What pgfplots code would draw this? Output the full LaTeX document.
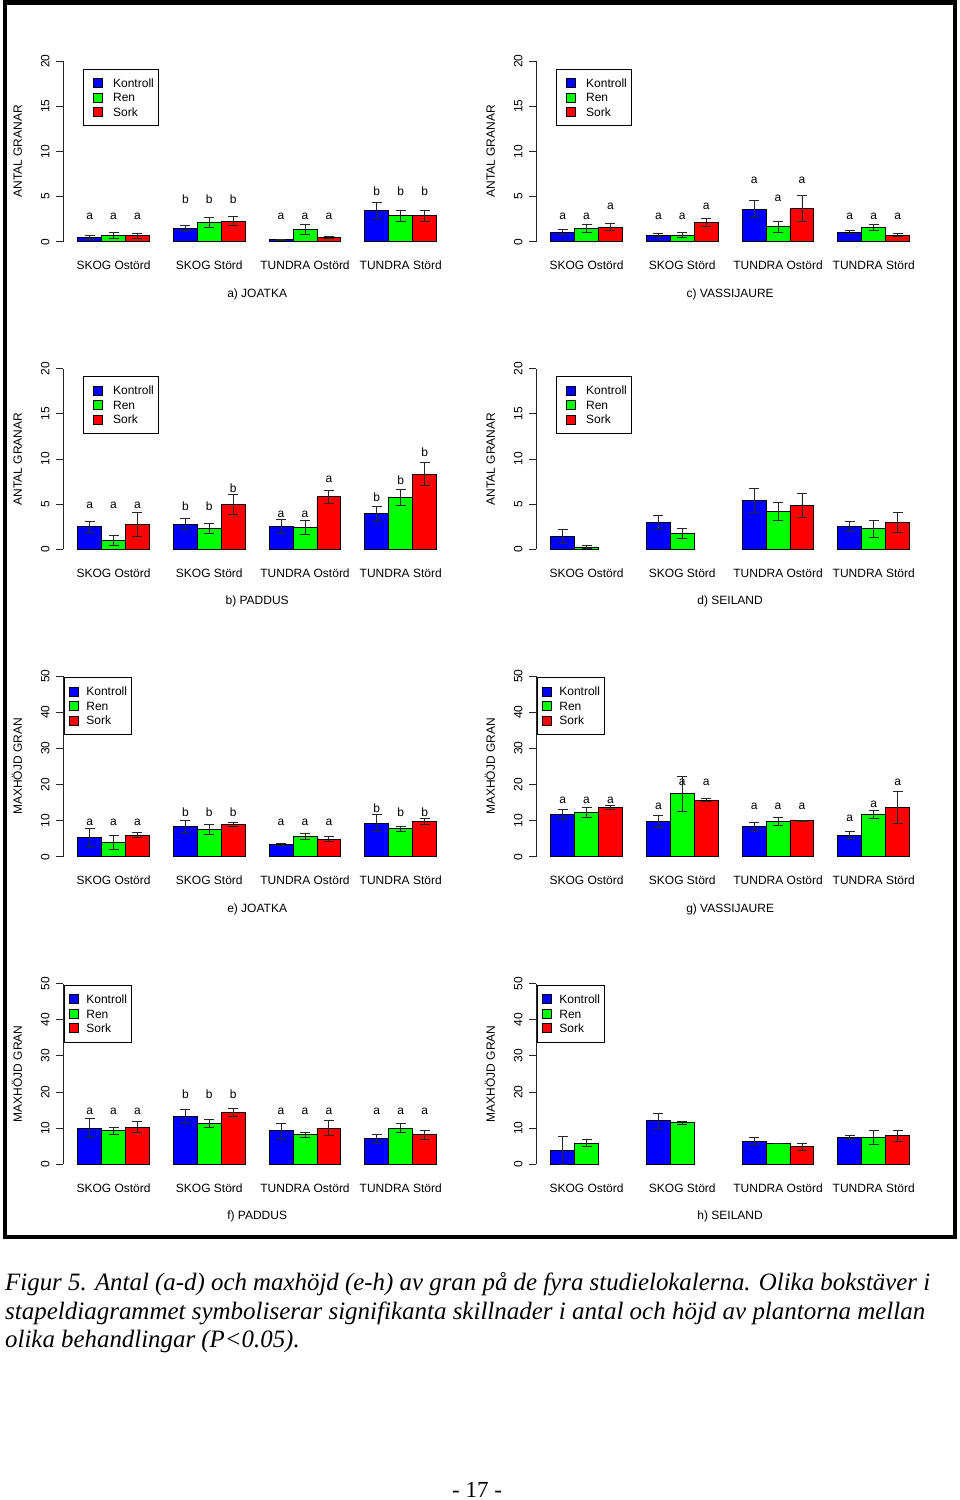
\documentclass[border=0pt]{standalone}
\usepackage{fontspec}
\setmainfont{Liberation Sans}
\newfontfamily\capfont{Liberation Serif}
\usepackage{graphicx}
\usepackage{pgfplots}
\pgfplotsset{compat=1.18}
\usepackage{pgfplotstable}
\definecolor{kblue}{RGB}{0,0,255}
\definecolor{rgreen}{RGB}{0,255,0}
\definecolor{sred}{RGB}{255,0,0}
\newsavebox\capbox
\newlength\capw

% columns: g = group, k/r/s = Kontroll/Ren/Sork means, ke/re/se = error
\pgfplotstableread{
g k ke r re s se
1 0.45 0.2 0.74 0.33 0.66 0.25
2 1.47 0.37 2.14 0.6 2.28 0.5
3 0.22 0.08 1.36 0.6 0.44 0.1
4 3.5 0.9 2.87 0.6 2.87 0.6
}\tA
\pgfplotstableread{
g k ke r re s se
1 2.48 0.6 1.0 0.54 2.77 1.33
2 2.77 0.6 2.33 0.55 4.92 1.1
3 2.55 0.76 2.44 0.8 5.84 0.72
4 3.92 0.8 5.73 0.92 8.32 1.27
}\tB
\pgfplotstableread{
g k ke r re s se
1 1.07 0.3 1.44 0.44 1.62 0.42
2 0.66 0.24 0.74 0.3 2.17 0.45
3 3.61 0.92 1.66 0.6 3.68 1.42
4 1.07 0.2 1.55 0.33 0.74 0.18
}\tC
\pgfplotstableread{
g k ke r re s se
1 1.44 0.74 0.26 0.15 nan nan
2 2.99 0.8 1.77 0.57 nan nan
3 5.43 1.35 4.21 0.98 4.84 1.3
4 2.55 0.55 2.26 0.92 2.96 1.07
}\tD
\pgfplotstableread{
g k ke r re s se
1 5.44 2.5 3.87 1.9 5.9 0.7
2 8.3 1.65 7.47 1.35 9.04 0.55
3 3.41 0.3 5.63 0.75 4.89 0.8
4 9.32 2.45 7.75 0.65 9.78 0.8
}\tE
\pgfplotstableread{
g k ke r re s se
1 9.98 2.6 9.24 0.9 10.26 1.5
2 13.31 1.75 11.28 1.0 14.33 1.0
3 9.24 2.05 8.13 0.65 9.98 2.1
4 7.02 1.2 9.98 1.25 8.23 1.25
}\tF
\pgfplotstableread{
g k ke r re s se
1 11.8 1.4 12.27 1.35 13.56 0.55
2 9.78 1.6 17.44 4.8 15.68 0.45
3 8.3 1.2 9.78 1.1 9.96 0.1
4 6.0 1.0 11.8 1.1 13.65 4.47
}\tG
\pgfplotstableread{
g k ke r re s se
1 3.88 3.95 5.82 1.0 nan nan
2 12.0 2.05 11.46 0.5 nan nan
3 6.38 0.95 5.82 0.05 4.9 0.93
4 7.49 0.5 7.49 1.9 7.95 1.5
}\tH

% significance letters
\pgfplotstableread{
x y l
1.5 2.84 a
2.5 2.84 a
3.5 2.84 a
5.5 4.68 b
6.5 4.68 b
7.5 4.68 b
9.5 2.84 a
10.5 2.84 a
11.5 2.84 a
13.5 5.64 b
14.5 5.64 b
15.5 5.64 b
}\lA
\pgfplotstableread{
x y l
1.5 4.92 a
2.5 4.92 a
3.5 4.92 a
5.5 4.73 b
6.5 4.73 b
7.5 6.77 b
9.5 3.88 a
10.5 3.88 a
11.5 7.76 a
13.5 5.77 b
14.5 7.69 b
15.5 10.72 b
}\lB
\pgfplotstableread{
x y l
1.5 2.84 a
2.5 2.84 a
3.5 3.87 a
5.5 2.84 a
6.5 2.84 a
7.5 3.87 a
9.5 6.81 a
10.5 4.79 a
11.5 6.81 a
13.5 2.84 a
14.5 2.84 a
15.5 2.84 a
}\lC
\pgfplotstableread{
x y l
1.5 9.4 a
2.5 9.4 a
3.5 9.4 a
5.5 12.18 b
6.5 12.18 b
7.5 12.18 b
9.5 9.4 a
10.5 9.4 a
11.5 9.4 a
13.5 13.4 b
14.5 12.18 b
15.5 12.36 b
}\lE
\pgfplotstableread{
x y l
1.5 14.6 a
2.5 14.6 a
3.5 14.6 a
5.5 19.4 b
6.5 19.4 b
7.5 19.4 b
9.5 14.6 a
10.5 14.6 a
11.5 14.6 a
13.5 14.6 a
14.5 14.6 a
15.5 14.6 a
}\lF
\pgfplotstableread{
x y l
1.5 15.68 a
2.5 15.68 a
3.5 15.68 a
5.5 13.84 a
6.5 20.48 a
7.5 20.48 a
9.5 13.84 a
10.5 13.84 a
11.5 13.84 a
13.5 10.7 a
14.5 14.58 a
15.5 20.48 a
}\lG

\pgfplotsset{
  /pgf/number format/assume math mode=true,
  legimg/.style 2 args={legend image code/.code={%
      \draw[fill=#1, draw=black, line width=0.9pt] (0pt,-4.5pt) rectangle (9pt,4.5pt);
      \path (-#2,0pt);}},
  errb/.style={error bars/.cd, y dir=both, y explicit,
      error bar style={line width=0.9pt, black!85},
      error mark options={rotate=90, mark size=5pt, line width=0.9pt, black!85}},
  panel/.style={
    scale only axis, width=387.7pt, height=180.7pt,
    anchor=south west, clip=false,
    xmin=0.4, xmax=16.6, ymin=0,
    axis y line*=left, axis x line*=bottom,
    x axis line style={draw=none},
    y axis line style={line width=0.9pt, black!85},
    xtick={2.5,6.5,10.5,14.5},
    xticklabels={SKOG Ostörd,SKOG Störd,TUNDRA Ostörd,TUNDRA Störd},
    xtick style={draw=none},
    ytick style={line width=0.9pt, black!85},
    tick align=outside, major tick length=7pt,
    yticklabel style={xshift=-11pt, rotate=90, anchor=center, inner sep=0pt},
    xticklabel style={anchor=base, yshift=-20.8pt, inner sep=0pt},
    every axis x label/.style={at={(axis description cs:0.5,0)}, anchor=base, yshift=-55.3pt},
    every axis y label/.style={at={(axis description cs:0,0.5)}, xshift=-41.5pt, rotate=90, anchor=base},
    legend cell align=left,
  },
  antal/.style={ymax=20, ytick={0,5,10,15,20}, ylabel={ANTAL GRANAR},
    legend style={at={(axis description cs:0.0503,0.958)}, anchor=north west,
      draw=black, line width=0.9pt, fill=white,
      inner xsep=4.3pt, inner ysep=9pt, column sep=10pt, row sep=4.6pt,
      nodes={inner sep=0pt, text height=8.6pt, text depth=0pt}}},
  hojd/.style={ymax=50, ytick={0,10,20,30,40,50}, ylabel={MAXHÖJD GRAN},
    legend style={at={(axis description cs:0.0026,0.993)}, anchor=north west,
      draw=black, line width=0.9pt, fill=white,
      inner xsep=4pt, inner ysep=9pt, column sep=7.7pt, row sep=4.6pt,
      nodes={inner sep=0pt, text height=8.6pt, text depth=0pt}}},
}

\newcommand\bars[2]{%
  \addplot[ybar, bar width=1, bar shift=0pt, fill=kblue, draw=black, line width=0.9pt, legimg={kblue}{#2}, errb]
    table[x expr=4*\thisrow{g}-2.5, y=k, y error=ke]{#1};
  \addlegendentry{Kontroll}
  \addplot[ybar, bar width=1, bar shift=0pt, fill=rgreen, draw=black, line width=0.9pt, legimg={rgreen}{#2}, errb]
    table[x expr=4*\thisrow{g}-1.5, y=r, y error=re]{#1};
  \addlegendentry{Ren}
  \addplot[ybar, bar width=1, bar shift=0pt, fill=sred, draw=black, line width=0.9pt, legimg={sred}{#2}, errb]
    table[x expr=4*\thisrow{g}-0.5, y=s, y error=se]{#1};
  \addlegendentry{Sork}
}
\newcommand\letters[1]{%
  \addplot[only marks, mark=*, mark size=0pt, mark options={draw=none, fill=none},
    point meta=explicit symbolic, nodes near coords, nodes near coords align={center},
    every node near coord/.append style={inner sep=0pt, text=black}, forget plot]
    table[x=x, y=y, meta=l]{#1};
}

\begin{document}
\sbox\capbox{\capfont\itshape\fontsize{25}{28}\selectfont Figur 5. Antal (a-d) och maxhöjd (e-h) av gran på de fyra studielokalerna. Olika bokstäver i}%
\setlength\capw{\wd\capbox}%
\pgfmathsetmacro\capfac{925/\capw}%
\begin{tikzpicture}[font=\fontsize{12}{14}\selectfont]
\fill[white] (0,0) rectangle (960pt,-1500pt);
\useasboundingbox (0,0) rectangle (960pt,-1500pt);
\draw[line width=4.4pt] (5pt,-2.3pt) rectangle (954.9pt,-1236.8pt);

\begin{axis}[panel, antal, at={(63.3pt,-241.7pt)}, xlabel={a) JOATKA}]
\bars{\tA}{5.7pt}\letters{\lA}
\end{axis}
\begin{axis}[panel, antal, at={(536.3pt,-241.7pt)}, xlabel={c) VASSIJAURE}]
\bars{\tC}{5.7pt}\letters{\lC}
\end{axis}
\begin{axis}[panel, antal, at={(63.3pt,-549.3pt)}, xlabel={b) PADDUS}]
\bars{\tB}{5.7pt}\letters{\lB}
\end{axis}
\begin{axis}[panel, antal, at={(536.3pt,-549.3pt)}, xlabel={d) SEILAND}]
\bars{\tD}{5.7pt}
\end{axis}
\begin{axis}[panel, hojd, at={(63.3pt,-856.7pt)}, xlabel={e) JOATKA}]
\bars{\tE}{0pt}\letters{\lE}
\end{axis}
\begin{axis}[panel, hojd, at={(536.3pt,-856.7pt)}, xlabel={g) VASSIJAURE}]
\bars{\tG}{0pt}\letters{\lG}
\end{axis}
\begin{axis}[panel, hojd, at={(63.3pt,-1164.3pt)}, xlabel={f) PADDUS}]
\bars{\tF}{0pt}\letters{\lF}
\end{axis}
\begin{axis}[panel, hojd, at={(536.3pt,-1164.3pt)}, xlabel={h) SEILAND}]
\bars{\tH}{0pt}
\end{axis}

\node[anchor=base west, inner sep=0pt] at (5pt,-1290pt) {\resizebox{925pt}{\height}{\usebox\capbox}};
\node[anchor=base west, inner sep=0pt] at (5pt,-1319pt) {\resizebox{920pt}{\height}{\capfont\itshape\fontsize{25}{28}\selectfont stapeldiagrammet symboliserar signifikanta skillnader i antal och höjd av plantorna mellan}};
\node[anchor=base west, inner sep=0pt] at (5pt,-1347pt) {\scalebox{\capfac}[1]{\capfont\itshape\fontsize{25}{28}\selectfont olika behandlingar (P<0.05).}};
\node[anchor=base, inner sep=0pt] at (477pt,-1497.6pt) {\capfont\fontsize{23}{26}\selectfont - 17 -};
\end{tikzpicture}
\end{document}
